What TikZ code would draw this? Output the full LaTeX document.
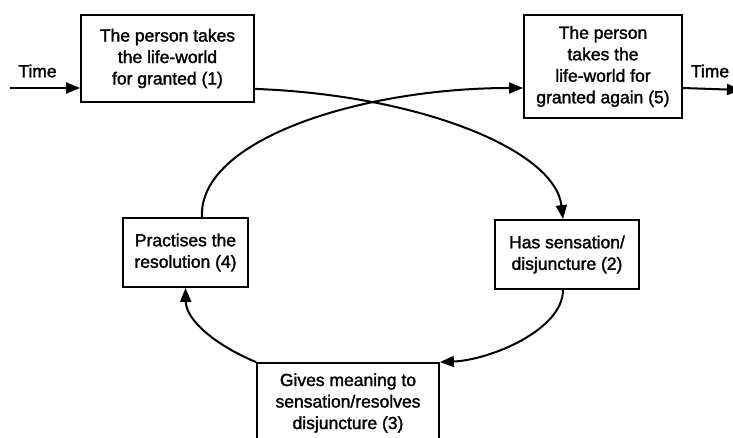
\documentclass[tikz,border=0pt]{standalone}
\usepackage{fontspec}
\newfontfamily\diafont[FakeBold=1.6]{Liberation Sans}
\usetikzlibrary{arrows.meta}
\begin{document}
\begin{tikzpicture}[x=1pt,y=-1pt,
  box/.style={draw,line width=1.8pt,align=center,inner sep=0pt,
    font=\diafont\fontsize{17.5}{21.5}\selectfont},
  conn/.style={line width=2pt,-{Triangle[length=14pt,width=11pt]}},
  lbl/.style={font=\diafont\fontsize{17.5}{21.5}\selectfont}]
\clip (0,0) rectangle (733,438);
\fill[white] (0,0) rectangle (733,438);
\node[box,minimum width=173pt,minimum height=87pt] (n1) at (167.5,58.5)
  {The person takes\\the life-world\\for granted (1)};
\node[box,minimum width=158pt,minimum height=103pt] (n5) at (603,66.5)
  {The person\\takes the\\life-world for\\granted again (5)};
\node[box,minimum width=144pt,minimum height=69pt] (n2) at (567,254.5)
  {Has sensation/\\disjuncture (2)};
\node[box,minimum width=125pt,minimum height=69pt] (n4) at (185.5,252.5)
  {Practises the\\resolution (4)};
\node[box,minimum width=182pt,minimum height=80pt] (n3) at (348,403)
  {Gives meaning to\\sensation/resolves\\disjuncture (3)};
\node[lbl] (tl) at (37.5,71) {Time};
\node[lbl] (tr) at (710,71) {Time};
\coordinate (tin) at (10,88);
\coordinate (tout) at (741,90);
\draw[conn] (tin) -- (tin -| n1.west);
\draw[conn] ([yshift=-21.5pt]n5.east) -- (tout);
\draw[conn] ([yshift=14pt]n1.south east) .. controls (420,95) and (555,150) .. ([xshift=-4pt]n2.north);
\draw[conn] ([xshift=16.5pt]n4.north) .. controls (198,140) and (360,88) .. ([yshift=-21.5pt]n5.west);
\draw[conn] ([xshift=-4pt]n2.south) .. controls (563,330) and (490,360) .. (n3.north east);
\draw[conn] (n3.north west) .. controls (215,345) and (186,320) .. (n4.south);
\end{tikzpicture}
\end{document}
